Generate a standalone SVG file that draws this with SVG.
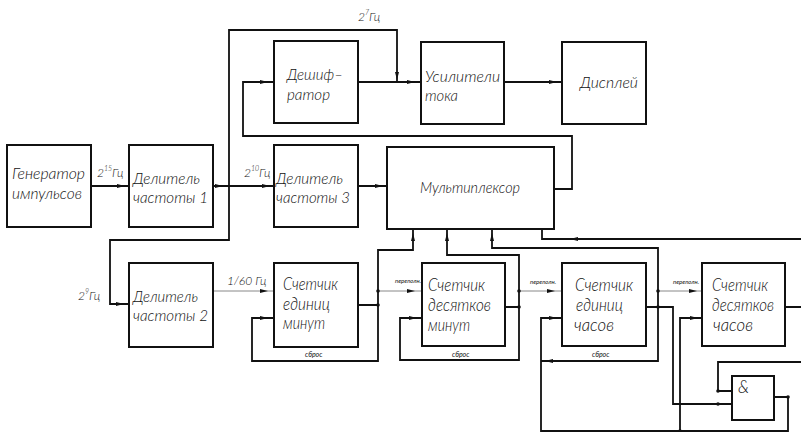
<svg xmlns="http://www.w3.org/2000/svg" width="801" height="432" viewBox="0 0 801 432">
<defs>
<style>
.b{fill:#fff;stroke:#111;stroke-width:2}
.w{fill:none;stroke:#111;stroke-width:1.8}
.t{fill:none;stroke:#888;stroke-width:1}
text{font-family:Lato,"Liberation Sans",Arial,sans-serif;font-style:italic;font-weight:300;fill:#111}
.m{font-size:16px}
.c{font-size:17px}
.s{font-size:12px}
.x{font-size:6px;font-weight:400}
.r{font-size:7px;font-weight:400}
.d{fill:#111}
</style>
<polygon id="ar" points="0,0 -8,-2 -8,2" fill="#111"/>
</defs>
<rect width="801" height="432" fill="#fff"/>
<g id="connectors">
<path class="w" d="M91,186H129M213,186H274M358,186H387M358,82H421M504,82H562"/>
<path class="w" d="M397,82V30H229V240H110V304H129"/>
<path class="w" d="M554,189H572V136H243V82H274"/>
<path class="w" d="M542,229V239H801"/>
<path class="t" d="M213,291H274M378,291H422M519,291H562M658,291H702"/>
<path class="w" d="M358,305H378M505,307H519M646,307H658M785,307H801"/>
<path class="w" d="M413,229V250H378V361H252V318H274"/>
<path class="w" d="M447,229V255H519V360H400V318H422"/>
<path class="w" d="M492,229V248H658V361H541"/>
<path class="w" d="M562,318H541V431H788V397H774"/>
<path class="w" d="M658,307H673V404H732"/>
<path class="w" d="M702,318H680V431"/>
<path class="w" d="M801,362H718V391H732"/>
<use href="#ar" transform="translate(125,186)"/>
<use href="#ar" transform="translate(223,186)"/>
<use href="#ar" transform="translate(270,186)"/>
<use href="#ar" transform="translate(383,186)"/>
<use href="#ar" transform="translate(397,80) rotate(90)"/>
<use href="#ar" transform="translate(268,82)"/>
<use href="#ar" transform="translate(415,82)"/>
<use href="#ar" transform="translate(557,82)"/>
<use href="#ar" transform="translate(124,304)"/>
<use href="#ar" transform="translate(268,291)"/>
<use href="#ar" transform="translate(268,318)"/>
<use href="#ar" transform="translate(413,233) rotate(-90)"/>
<use href="#ar" transform="translate(447,233) rotate(-90)"/>
<use href="#ar" transform="translate(492,233) rotate(-90)"/>
<use href="#ar" transform="translate(570,239) rotate(180)"/>
<use href="#ar" transform="translate(415,291)"/>
<use href="#ar" transform="translate(417,318)"/>
<use href="#ar" transform="translate(555,291)"/>
<use href="#ar" transform="translate(557,318)"/>
<use href="#ar" transform="translate(545,361) rotate(180)"/>
<use href="#ar" transform="translate(697,291)"/>
<use href="#ar" transform="translate(698,318)"/>
<circle class="d" cx="378" cy="291" r="1.8"/>
<circle class="d" cx="378" cy="305" r="1.8"/>
<circle class="d" cx="519" cy="291" r="1.8"/>
<circle class="d" cx="519" cy="307" r="1.8"/>
<circle class="d" cx="658" cy="291" r="1.8"/>
<circle class="d" cx="658" cy="307" r="1.8"/>
<circle class="d" cx="718" cy="391" r="1.8"/>
<circle class="d" cx="718" cy="404" r="1.8"/>
<circle class="d" cx="788" cy="397" r="1.8"/>
<circle class="d" cx="680" cy="431" r="1.8"/>
<text class="s" x="97" y="177">2<tspan font-size="7" dy="-6">15</tspan><tspan dy="6">Гц</tspan></text>
<text class="s" x="244" y="177">2<tspan font-size="7" dy="-6">10</tspan><tspan dy="6">Гц</tspan></text>
<text class="s" x="78" y="300">2<tspan font-size="7" dy="-6">9</tspan><tspan dy="6">Гц</tspan></text>
<text class="s" x="358" y="21">2<tspan font-size="7" dy="-6">7</tspan><tspan dy="6">Гц</tspan></text>
<text class="s" x="227" y="285">1/60 Гц</text>
<text class="x" x="395" y="283">переполн.</text>
<text class="x" x="530" y="284">переполн.</text>
<text class="x" x="673" y="284">переполн.</text>
<text class="r" x="305" y="357">сброс</text>
<text class="r" x="452" y="357">сброс</text>
<text class="r" x="592" y="357">сброс</text>
</g>
<g id="gen"><rect class="b" x="7" y="145" width="84" height="82"/><text class="m" x="12" y="179" textLength="73" lengthAdjust="spacingAndGlyphs">Генератор</text><text class="m" x="12" y="199" textLength="70" lengthAdjust="spacingAndGlyphs">импульсов</text></g>
<g id="div1"><rect class="b" x="129" y="145" width="84" height="82"/><text class="m" x="133" y="184" textLength="67" lengthAdjust="spacingAndGlyphs">Делитель</text><text class="m" x="133" y="203" textLength="75" lengthAdjust="spacingAndGlyphs">частоты 1</text></g>
<g id="div3"><rect class="b" x="274" y="145" width="84" height="82"/><text class="m" x="276" y="184" textLength="67" lengthAdjust="spacingAndGlyphs">Делитель</text><text class="m" x="276" y="203" textLength="74" lengthAdjust="spacingAndGlyphs">частоты 3</text></g>
<g id="mux"><rect class="b" x="387" y="147" width="167" height="82"/><text class="m" x="420" y="193" textLength="100" lengthAdjust="spacingAndGlyphs">Мультиплексор</text></g>
<g id="dec"><rect class="b" x="274" y="41" width="84" height="82"/><text class="m" x="287" y="80" textLength="56" lengthAdjust="spacingAndGlyphs">Дешиф–</text><text class="m" x="287" y="100" textLength="43" lengthAdjust="spacingAndGlyphs">ратор</text></g>
<g id="amp"><rect class="b" x="421" y="42" width="83" height="82"/><text class="m" x="425" y="82" textLength="75" lengthAdjust="spacingAndGlyphs">Усилители</text><text class="m" x="425" y="101" textLength="33" lengthAdjust="spacingAndGlyphs">тока</text></g>
<g id="disp"><rect class="b" x="562" y="42" width="84" height="82"/><text class="m" x="580" y="88" textLength="58" lengthAdjust="spacingAndGlyphs">Дисплей</text></g>
<g id="div2"><rect class="b" x="129" y="263" width="84" height="84"/><text class="m" x="133" y="302" textLength="65" lengthAdjust="spacingAndGlyphs">Делитель</text><text class="m" x="133" y="321" textLength="75" lengthAdjust="spacingAndGlyphs">частоты 2</text></g>
<g id="cnt-um"><rect class="b" x="274" y="263" width="84" height="84"/><text class="c" x="283" y="290" textLength="55" lengthAdjust="spacingAndGlyphs">Счетчик</text><text class="c" x="283" y="309.5" textLength="47" lengthAdjust="spacingAndGlyphs">единиц</text><text class="c" x="283" y="329" textLength="42" lengthAdjust="spacingAndGlyphs">минут</text></g>
<g id="cnt-dm"><rect class="b" x="422" y="263" width="83" height="83"/><text class="c" x="428" y="291" textLength="57" lengthAdjust="spacingAndGlyphs">Счетчик</text><text class="c" x="428" y="311" textLength="63" lengthAdjust="spacingAndGlyphs">десятков</text><text class="c" x="428" y="331" textLength="42" lengthAdjust="spacingAndGlyphs">минут</text></g>
<g id="cnt-uh"><rect class="b" x="562" y="263" width="84" height="83"/><text class="c" x="575" y="291" textLength="58" lengthAdjust="spacingAndGlyphs">Счетчик</text><text class="c" x="576" y="311" textLength="47" lengthAdjust="spacingAndGlyphs">единиц</text><text class="c" x="574" y="331" textLength="40" lengthAdjust="spacingAndGlyphs">часов</text></g>
<g id="cnt-dh"><rect class="b" x="702" y="263" width="83" height="83"/><text class="c" x="712" y="291" textLength="56" lengthAdjust="spacingAndGlyphs">Счетчик</text><text class="c" x="712" y="311" textLength="62" lengthAdjust="spacingAndGlyphs">десятков</text><text class="c" x="713" y="331" textLength="40" lengthAdjust="spacingAndGlyphs">часов</text></g>
<g id="and"><rect class="b" x="732" y="376" width="42" height="44"/><text class="c" x="738" y="393">&amp;</text></g>
</svg>
